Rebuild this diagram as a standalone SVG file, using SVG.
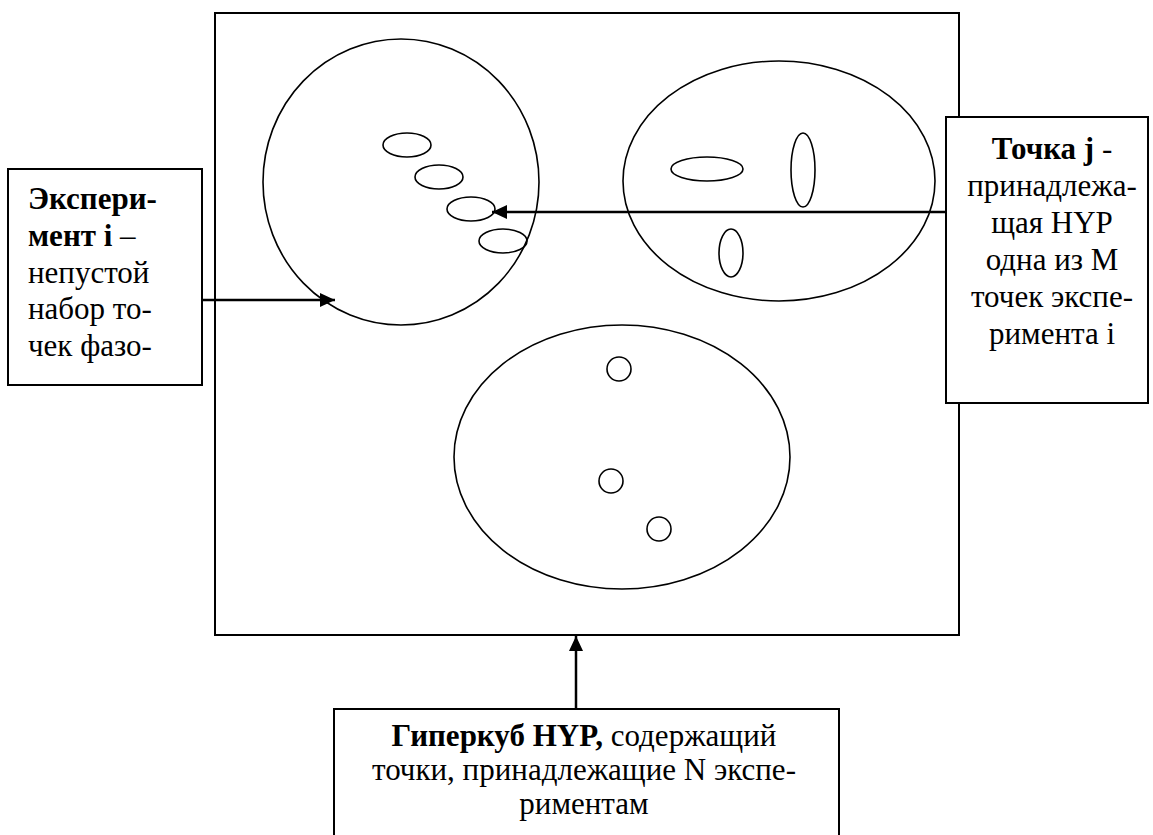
<svg xmlns="http://www.w3.org/2000/svg" width="1153" height="835" viewBox="0 0 1153 835" font-family="'Liberation Serif', 'Times New Roman', 'DejaVu Serif', serif">
<style>
.box{fill:#fff;stroke:#000;stroke-width:2}
.shape{fill:none;stroke:#000;stroke-width:1.6}
.conn{stroke:#000;stroke-width:2.5;fill:none}
.t{font-family:'Liberation Serif','Times New Roman','DejaVu Serif',serif;font-size:31px;fill:#000}
.b{font-weight:bold}
</style>
<defs>
<marker id="arr" markerUnits="userSpaceOnUse" markerWidth="16" markerHeight="14" refX="15" refY="7" orient="auto">
<path d="M0,0 L15,7 L0,14 z" fill="#000"/>
</marker>
</defs>
<g id="hypercube">
<rect x="215" y="13" width="744" height="622" fill="none" stroke="#000" stroke-width="2"/>
</g>
<g id="experiment1">
<ellipse class="shape" cx="401" cy="182" rx="138" ry="143"/>
<ellipse class="shape" cx="407" cy="145" rx="24" ry="12"/>
<ellipse class="shape" cx="439" cy="177" rx="24" ry="12"/>
<ellipse class="shape" cx="471" cy="209" rx="24" ry="12"/>
<ellipse class="shape" cx="503" cy="241" rx="24" ry="12"/>
</g>
<g id="experiment2">
<ellipse class="shape" cx="779" cy="181" rx="156" ry="120"/>
<ellipse class="shape" cx="707" cy="169" rx="36" ry="12"/>
<ellipse class="shape" cx="803" cy="170" rx="12" ry="37"/>
<ellipse class="shape" cx="731" cy="253" rx="12" ry="24"/>
</g>
<g id="experiment3">
<ellipse class="shape" cx="622" cy="457" rx="168" ry="132"/>
<circle class="shape" cx="619" cy="369" r="12"/>
<circle class="shape" cx="611" cy="481" r="12"/>
<circle class="shape" cx="659" cy="529" r="12"/>
</g>
<g id="connectors">
<line class="conn" x1="202" y1="300" x2="335" y2="300" marker-end="url(#arr)"/>
<line class="conn" x1="946" y1="212" x2="492" y2="212" marker-end="url(#arr)"/>
<line class="conn" x1="576" y1="709" x2="576" y2="636" marker-end="url(#arr)"/>
</g>
<g id="label-experiment">
<rect class="box" x="8" y="169" width="194" height="216"/>
<text class="t" x="28" y="209"><tspan class="b">Экспери-</tspan></text>
<text class="t" x="28" y="246"><tspan class="b">мент i</tspan> –</text>
<text class="t" x="28" y="283">непустой</text>
<text class="t" x="28" y="319">набор то-</text>
<text class="t" x="28" y="356">чек фазо-</text>
</g>
<g id="label-point">
<rect class="box" x="946" y="117" width="202" height="286"/>
<text class="t" text-anchor="middle" x="1052" y="159"><tspan class="b">Точка j</tspan> -</text>
<text class="t" text-anchor="middle" x="1052" y="196">принадлежа-</text>
<text class="t" text-anchor="middle" x="1052" y="233">щая HYP</text>
<text class="t" text-anchor="middle" x="1052" y="270">одна из M</text>
<text class="t" text-anchor="middle" x="1052" y="307">точек экспе-</text>
<text class="t" text-anchor="middle" x="1052" y="344">римента i</text>
</g>
<g id="label-hypercube">
<rect class="box" x="334" y="709" width="505" height="140"/>
<text class="t" text-anchor="middle" x="584" y="746"><tspan class="b">Гиперкуб HYP,</tspan> содержащий</text>
<text class="t" text-anchor="middle" x="584" y="780">точки, принадлежащие N экспе-</text>
<text class="t" text-anchor="middle" x="584" y="814">риментам</text>
</g>
</svg>
